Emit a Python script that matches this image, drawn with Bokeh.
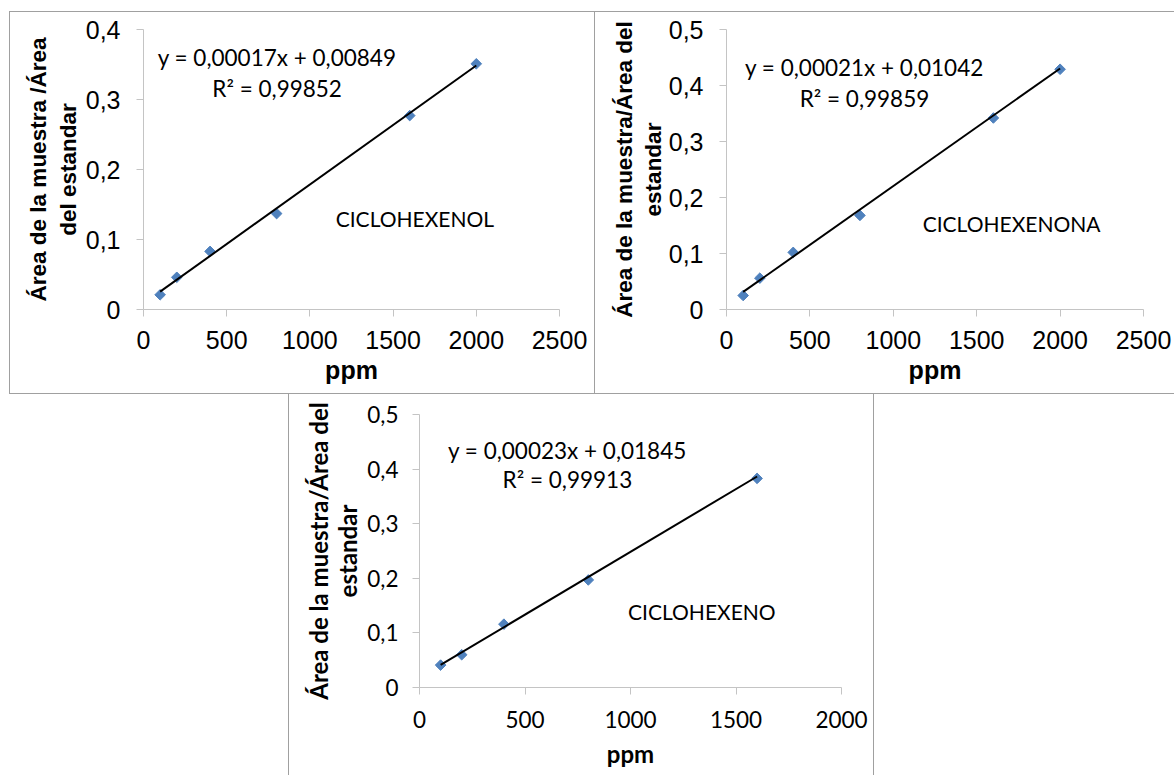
import math
from bokeh.plotting import figure
from bokeh.layouts import column, row
from bokeh.models import Range1d, FixedTicker, Label, Spacer
from bokeh.embed import file_html
from bokeh.resources import INLINE

# ---------------- data ----------------
ppm_1 = [100, 200, 400, 800, 1600, 2000]
ratio_ciclohexenol = [0.021, 0.046, 0.083, 0.137, 0.277, 0.351]
ppm_2 = [100, 200, 400, 800, 1600, 2000]
ratio_ciclohexenona = [0.025, 0.056, 0.102, 0.168, 0.342, 0.429]
ppm_3 = [100, 200, 400, 800, 1600]
ratio_ciclohexeno = [0.041, 0.060, 0.116, 0.197, 0.383]

slope = [0.00017, 0.00021, 0.00023]
intercept = [0.00849, 0.01042, 0.01845]
eq_text = ["y = 0,00017x + 0,00849", "y = 0,00021x + 0,01042", "y = 0,00023x + 0,01845"]
r2_text = ["R² = 0,99852", "R² = 0,99859", "R² = 0,99913"]
names = ["CICLOHEXENOL", "CICLOHEXENONA", "CICLOHEXENO"]

x_ticks_a = [0, 500, 1000, 1500, 2000, 2500]
x_ticks_b = [0, 500, 1000, 1500, 2000]
y_ticks_a = [0, 0.1, 0.2, 0.3, 0.4]
y_ticks_b = [0, 0.1, 0.2, 0.3, 0.4, 0.5]
y_labels_b = ["0", "0,1", "0,2", "0,3", "0,4", "0,5"]

x_title = "ppm"
y_title_1 = "Área de la muestra /Área\ndel estandar"
y_title_2 = "Área de la muestra/Área del\nestandar"

BLUE = "#4F81BD"
AXIS = "#c4c4c4"
BORDER = "#a0a0a0"


def make_chart(x, y, k, xmax, xt, ymax, yt, ylabels, size, mins, tick_font, tick_size,
               title_font, title_size, ytitle_size, ytitle, ylh, ystand, xstand, xlstand,
               ytick_stand, eqpos, namepos, border_css):
    w, h = size
    ml, mr, mt, mb = mins
    p = figure(width=w, height=h, x_range=Range1d(0, xmax), y_range=Range1d(0, ymax),
               output_backend="svg", toolbar_location=None,
               min_border_left=ml, min_border_right=mr, min_border_top=mt, min_border_bottom=mb,
               background_fill_color="white", border_fill_color="white",
               styles=border_css)
    p.outline_line_color = None
    p.grid.visible = False
    for ax in (p.xaxis[0], p.yaxis[0]):
        ax.axis_line_color = AXIS
        ax.major_tick_line_color = AXIS
        ax.major_tick_in = 0
        ax.major_tick_out = 7
        ax.minor_tick_line_color = None
        ax.major_label_text_font = tick_font
        ax.major_label_text_font_size = tick_size
        ax.major_label_text_color = "black"
    p.xaxis.ticker = FixedTicker(ticks=xt)
    p.yaxis.ticker = FixedTicker(ticks=yt)
    p.yaxis.major_label_overrides = {t: l for t, l in zip(yt, ylabels)}
    p.xaxis.major_label_standoff = xstand
    p.yaxis.major_label_standoff = ytick_stand
    p.xaxis.axis_label = x_title
    p.xaxis.axis_label_text_font = title_font
    p.xaxis.axis_label_text_font_size = title_size
    p.xaxis.axis_label_text_font_style = "bold"
    p.xaxis.axis_label_text_color = "black"
    p.xaxis.axis_label_standoff = xlstand

    p.yaxis.axis_label = ytitle
    p.yaxis.axis_label_text_font = title_font
    p.yaxis.axis_label_text_font_size = ytitle_size
    p.yaxis.axis_label_text_font_style = "bold"
    p.yaxis.axis_label_text_color = "black"
    p.yaxis.axis_label_text_line_height = ylh
    p.yaxis.axis_label_text_align = "center"
    p.yaxis.axis_label_standoff = ystand

    p.scatter(x, y, marker="square", angle=math.pi / 4, size=7.5,
              fill_color=BLUE, line_color=BLUE)
    x0, x1 = min(x), max(x)
    p.line([x0, x1], [slope[k] * x0 + intercept[k], slope[k] * x1 + intercept[k]],
           line_color="black", line_width=2)

    ex, ey1, ey2 = eqpos
    for txt, yy in ((eq_text[k], ey1), (r2_text[k], ey2)):
        p.add_layout(Label(x=ex, y=yy, text=txt, text_align="center", text_baseline="middle",
                           text_font="Lato", text_font_size="22.5px", text_color="black"))
    p.add_layout(Label(x=namepos[0], y=namepos[1], text=names[k], text_align="center",
                       text_baseline="middle", text_font="Lato", text_font_size="21px",
                       text_color="black"))
    return p


p1 = make_chart(ppm_1, ratio_ciclohexenol, 0, 2500, x_ticks_a, 0.4, y_ticks_a, y_labels_b[:5],
                (586, 383), (133, 37, 17, 86), "Liberation Sans", "25px", "Liberation Sans", "25px",
                "22.5px", y_title_1, 1.2, 2, 14, 4, 16, (803, 0.36, 0.316), (1631, 0.13),
                {"border": f"1px solid {BORDER}"})
p2 = make_chart(ppm_2, ratio_ciclohexenona, 1, 2500, x_ticks_a, 0.5, y_ticks_b, y_labels_b,
                (579, 383), (131, 31, 17, 86), "Liberation Sans", "25px", "Liberation Sans", "25px",
                "22.5px", y_title_2, 1.15, 0, 14, 4, 16, (827, 0.432, 0.377), (1709, 0.154),
                {"border-top": f"1px solid {BORDER}", "border-bottom": f"1px solid {BORDER}"})
p3 = make_chart(ppm_3, ratio_ciclohexeno, 2, 2000, x_ticks_b, 0.5, y_ticks_b, y_labels_b,
                (586, 381), (130, 34, 20, 88), "Lato", "22.5px", "Lato", "24px",
                "24px", y_title_2, 1.0, 2, 16, 8, 14, (701, 0.434, 0.381), (1338, 0.139),
                {"border-left": f"1px solid {BORDER}", "border-right": f"1px solid {BORDER}"})

layout = column(Spacer(height=11),
                row(Spacer(width=9), p1, p2),
                row(Spacer(width=288), p3))

open("out.html", "w").write(file_html(layout, INLINE))
